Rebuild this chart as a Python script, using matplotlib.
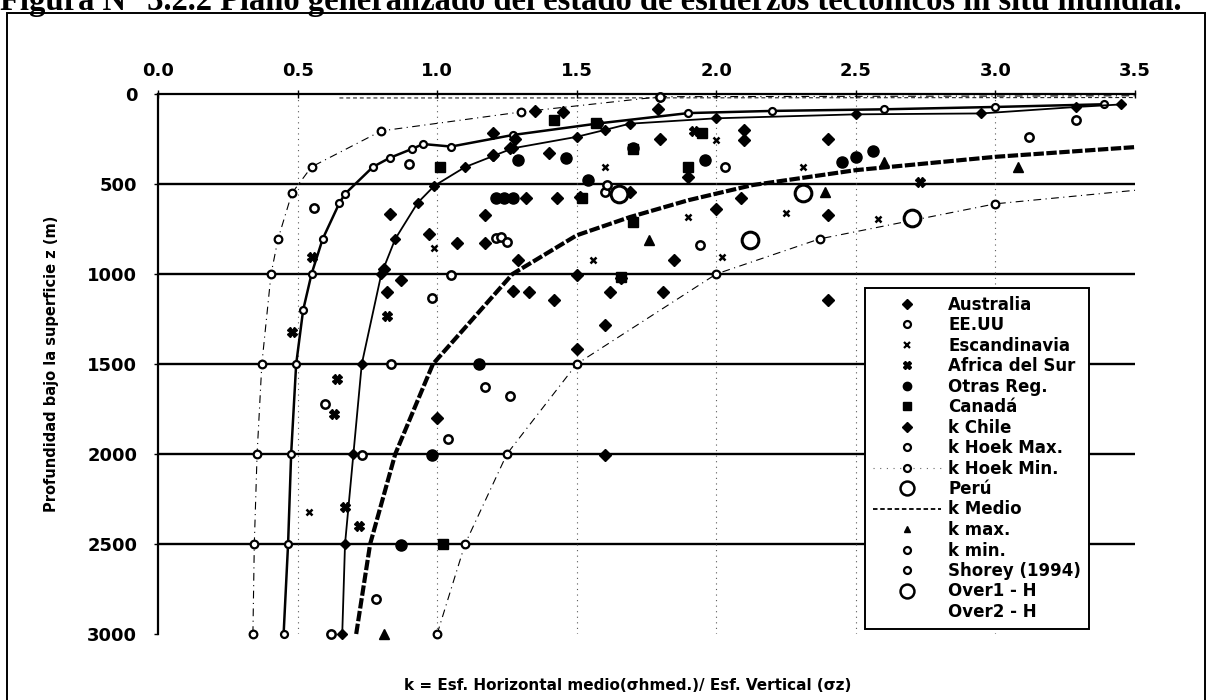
import matplotlib
matplotlib.use("Agg")
import matplotlib.pyplot as plt
import numpy as np
from matplotlib.lines import Line2D
from matplotlib.patches import Rectangle

plt.rcParams["font.family"] = ["DejaVu Sans"]
plt.rcParams["font.weight"] = "bold"

W, H = 1208, 700

# ---------------------------------------------------------------------------
# Curves (k, depth z in m)
# ---------------------------------------------------------------------------
hoek_min_k = [0.34, 0.345, 0.355, 0.372, 0.405, 0.43, 0.48, 0.55, 0.80, 1.30, 1.80, 3.50]
hoek_min_z = [3000, 2500, 2000, 1500, 1000, 805, 550, 405, 205, 100, 15, 10]

hoek_max_k = [1.00, 1.10, 1.25, 1.50, 2.00, 2.37, 3.00, 3.50]
hoek_max_z = [3000, 2500, 2000, 1500, 1000, 805, 610, 535]

kmin_k = [0.45, 0.466, 0.477, 0.495, 0.52, 0.55, 0.59, 0.65, 0.67, 0.77, 0.83, 0.91,
          0.95, 1.05, 1.27, 1.58, 1.90, 2.20, 2.60, 3.00, 3.39]
kmin_z = [3000, 2500, 2000, 1500, 1200, 1000, 805, 605, 555, 405, 355, 305,
          278, 292, 228, 163, 106, 94, 85, 72, 57]

kmax_k = [0.66, 0.67, 0.70, 0.73, 0.80, 0.85, 0.93, 0.99, 1.10, 1.20, 1.27, 1.50,
          1.60, 1.69, 2.00, 2.50, 2.95, 3.29, 3.45]
kmax_z = [3000, 2500, 2000, 1500, 1000, 805, 605, 510, 406, 345, 302, 238,
          200, 165, 135, 113, 108, 72, 58]

kmedio_k = [0.71, 0.76, 0.85, 0.985, 1.27, 1.50, 1.69, 1.90, 2.13, 2.50, 3.00, 3.50]
kmedio_z = [3000, 2500, 2000, 1500, 1000, 785, 684, 590, 506, 423, 349, 295]

over2_k = [0.65, 1.30, 3.50]
over2_z = [22, 22, 20]

# ---------------------------------------------------------------------------
# Measured points per region
# ---------------------------------------------------------------------------
australia_k = [1.35, 1.45, 1.20, 1.28, 1.26, 1.20, 1.40, 1.32, 1.43, 1.69, 1.17, 0.97,
               1.07, 1.17, 1.29, 1.80, 1.79, 2.10, 2.10, 1.90, 2.09, 2.00, 1.85, 1.50,
               2.40, 2.40, 1.62, 1.81, 2.40, 1.60, 1.66, 0.83, 0.81, 0.87, 0.82, 1.27,
               1.33, 1.42, 1.50, 1.00, 1.51, 1.60]
australia_z = [95, 100, 217, 250, 300, 339, 330, 580, 580, 545, 673, 775,
               828, 828, 924, 252, 85, 200, 256, 462, 580, 640, 924, 1007,
               250, 673, 1100, 1100, 1146, 1285, 1024, 668, 974, 1035, 1100, 1095,
               1100, 1143, 1419, 1798, 571, 2003]

eeuu_k = [0.90, 0.56, 1.21, 1.23, 1.25, 1.05, 0.98, 1.60, 2.03, 1.94, 0.835, 1.17,
          1.26, 1.04, 0.73, 0.60, 0.78, 0.62, 3.12, 3.29, 1.61, 1.80]
eeuu_z = [390, 634, 800, 795, 823, 1007, 1135, 545, 406, 838, 1502, 1625,
          1675, 1914, 2003, 1720, 2805, 3000, 240, 145, 506, 15]

escandinavia_k = [0.99, 1.56, 1.60, 2.00, 1.90, 2.25, 2.02, 2.31, 2.58, 0.54]
escandinavia_z = [857, 922, 406, 258, 682, 660, 907, 406, 696, 2320]

africa_k = [1.92, 0.55, 0.82, 0.48, 0.64, 0.63, 0.67, 0.72, 2.73]
africa_z = [204, 907, 1235, 1324, 1582, 1775, 2297, 2398, 488]

otras_k = [1.29, 1.46, 1.21, 1.24, 1.27, 1.54, 1.96, 1.70, 2.45, 2.50, 2.56, 1.15,
           0.98, 0.87]
otras_z = [367, 356, 580, 580, 580, 478, 367, 300, 377, 351, 315, 1502,
           2003, 2504]

canada_k = [1.42, 1.01, 1.52, 1.70, 1.90, 1.70, 1.66, 1.02, 1.57, 1.95]
canada_z = [145, 406, 580, 306, 406, 712, 1018, 2500, 163, 218]

kmax_pts_k = [1.76, 2.60, 3.08, 2.39, 0.81]
kmax_pts_z = [810, 377, 406, 544, 3000]

peru_k = [1.65, 2.31, 2.12]
peru_z = [556, 549, 810]

over1_k = [2.70]
over1_z = [690]

xticks = [0.0, 0.5, 1.0, 1.5, 2.0, 2.5, 3.0, 3.5]
yticks = [0, 500, 1000, 1500, 2000, 2500, 3000]

legend_labels = ["Australia", "EE.UU", "Escandinavia", "Africa del Sur", "Otras Reg.",
                 "Canadá", "k Chile", "k Hoek Max.", "k Hoek Min.", "Perú", "k Medio",
                 "k max.", "k min.", "Shorey (1994)", "Over1 - H", "Over2 - H"]

TITLE = "Figura N° 3.2.2 Plano generalizado del estado de esfuerzos tectónicos in situ mundial."

# ---------------------------------------------------------------------------
fig = plt.figure(figsize=(W / 100, H / 100), dpi=100)
fig.patch.set_facecolor("white")
ax = fig.add_axes([158 / W, 1 - 634 / H, (1135 - 158) / W, (634 - 94) / H])

ax.set_xlim(0, 3.5)
ax.set_ylim(3000, 0)

for s in ("right", "bottom"):
    ax.spines[s].set_visible(False)
for s in ("top", "left"):
    ax.spines[s].set_linewidth(1.6)

for y in yticks[1:-1]:
    ax.axhline(y, color="black", lw=1.7, zorder=1)
for x in xticks[1:-1]:
    ax.axvline(x, color="0.35", lw=0.8, ls=(0, (1, 4)), zorder=1)

dashdot = (0, (7, 4, 1, 4))
ax.plot(hoek_min_k, hoek_min_z, color="black", lw=0.8, ls=dashdot, zorder=2,
        marker="o", ms=5.5, mfc="white", mec="black", mew=1.6,
        markevery=list(range(len(hoek_min_k) - 1)), clip_on=False)
ax.plot(hoek_max_k, hoek_max_z, color="black", lw=0.8, ls=dashdot, zorder=2,
        marker="o", ms=5.5, mfc="white", mec="black", mew=1.6,
        markevery=list(range(len(hoek_max_k) - 1)), clip_on=False)
ax.plot(over2_k, over2_z, color="black", lw=0.7, ls=(0, (4, 3)), zorder=2)
ax.plot(kmin_k, kmin_z, color="black", lw=1.8, zorder=3,
        marker="o", ms=5, mfc="white", mec="black", mew=1.6, clip_on=False)
ax.plot(kmax_k, kmax_z, color="black", lw=1.3, zorder=3,
        marker="D", ms=5, mfc="black", mec="black", clip_on=False)
ax.plot(kmedio_k, kmedio_z, color="black", lw=3.0, ls=(0, (2.5, 0.6)), zorder=3,
        clip_on=False)

pts = dict(linestyle="None", clip_on=False, zorder=4)
ax.plot(australia_k, australia_z, marker="D", ms=6, color="black", **pts)
ax.plot(eeuu_k, eeuu_z, marker="o", ms=6, mfc="white", mec="black", mew=1.8, **pts)
ax.plot(escandinavia_k, escandinavia_z, marker="x", ms=5, mec="black", mew=1.8, **pts)
ax.plot(africa_k, africa_z, marker="X", ms=7, color="black", **pts)
ax.plot(otras_k, otras_z, marker="o", ms=8, color="black", **pts)
ax.plot(canada_k, canada_z, marker="s", ms=7, color="black", **pts)
ax.plot(kmax_pts_k, kmax_pts_z, marker="^", ms=6.5, color="black", **pts)
ax.plot(peru_k, peru_z, marker="o", ms=12, mfc="white", mec="black", mew=2.2, **pts)
ax.plot(over1_k, over1_z, marker="o", ms=12, mfc="white", mec="black", mew=2.2, **pts)

ax.xaxis.tick_top()
ax.set_xticks(xticks)
ax.set_xticklabels([f"{v:.1f}" for v in xticks])
ax.set_yticks(yticks)
ax.set_yticklabels([str(v) for v in yticks])
ax.tick_params(axis="x", top=True, bottom=False, direction="inout", length=6,
               width=1, pad=7, labelsize=13)
ax.tick_params(axis="y", direction="out", length=3, width=1, pad=12, labelsize=13)


def handle(marker="None", ms=5, fc="black", mew=1.0, ls="None", lw=0.0):
    return Line2D([], [], marker=marker, ms=ms, mfc=fc, mec="black", mew=mew,
                  ls=ls, lw=lw, color="black")


handles = [
    handle("D", 5),
    handle("o", 5, "white", 1.6),
    handle("x", 4.5, mew=1.6),
    handle("X", 5.5),
    handle("o", 6),
    handle("s", 5.5),
    handle("D", 5),
    handle("o", 5, "white", 1.6),
    Line2D([], [], marker="o", ms=5, mfc="white", mec="black", mew=1.6,
           ls=(0, (1, 5)), lw=0.8, color="0.4"),
    handle("o", 10, "white", 1.8),
    handle(ls=(0, (2.5, 1.5)), lw=1.3),
    handle("^", 5),
    handle("o", 5, "white", 1.6),
    handle("o", 5, "white", 1.6),
    handle("o", 10, "white", 1.8),
    handle(),
]
leg = ax.legend(handles=handles, labels=legend_labels, loc="upper left",
                bbox_to_anchor=(865 / W, 1 - 288 / H), bbox_transform=fig.transFigure,
                borderaxespad=0, frameon=True, fancybox=False, framealpha=1,
                edgecolor="black", fontsize=12, labelspacing=0.15, handlelength=4.1,
                handletextpad=0.45, borderpad=0.45)
leg.get_frame().set_linewidth(1.4)
leg.set_zorder(10)

fig.text(52 / W, 1 - 364 / H, "Profundidad bajo la superficie z (m)", rotation=90,
         ha="center", va="center", fontsize=10.5, fontweight="bold")
fig.text(628 / W, 1 - 686 / H, "k = Esf. Horizontal medio(σhmed.)/ Esf. Vertical (σz)",
         ha="center", va="center", fontsize=11, fontweight="bold")

fig.text(0 / W, 1 - 10 / H, TITLE, ha="left", va="baseline", fontsize=23.5,
         fontweight="bold", family=["Liberation Serif", "DejaVu Serif"])

fig.patches.append(Rectangle((7 / W, -0.02), (1205 - 7) / W, 1 - 13 / H + 0.02,
                             transform=fig.transFigure, fill=False, lw=1.4,
                             ec="black"))

fig.savefig("out.png", dpi=100, facecolor="white")
